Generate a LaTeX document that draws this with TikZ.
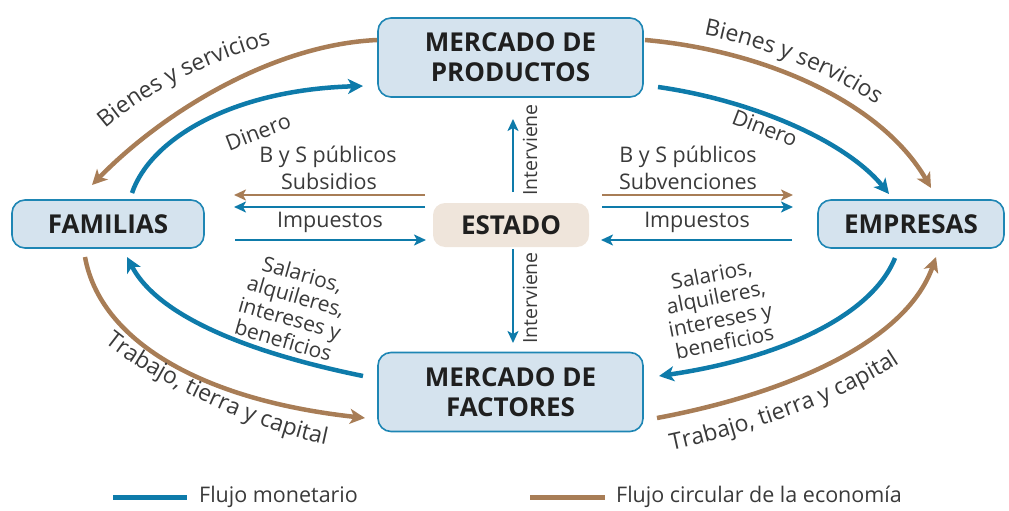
\documentclass[tikz,border=0pt]{standalone}
\usepackage{fontspec}
\setmainfont{Open Sans}
\usetikzlibrary{arrows.meta,decorations.text}
\definecolor{cblue}{HTML}{0E7BAA}
\definecolor{cbrown}{HTML}{A87D56}
\definecolor{boxfill}{HTML}{D5E3EE}
\definecolor{boxline}{HTML}{1E86B4}
\definecolor{estfill}{HTML}{EFE5DB}
\definecolor{txt}{HTML}{3A3A3A}
\newcommand{\lblfont}{\fontsize{21.5}{23}\selectfont}
\newcommand{\curvfont}{\fontsize{23}{24}\selectfont}
\begin{document}
\begin{tikzpicture}[x=1pt,y=-1pt,
  mainbox/.style={draw=boxline, line width=1.6pt, fill=boxfill, rounded corners=13pt,
    font=\fontsize{26}{30}\selectfont\bfseries, text=black!88, align=center, inner sep=0pt},
  estbox/.style={fill=estfill, rounded corners=12pt, font=\fontsize{26}{30}\selectfont\bfseries,
    text=black!88, inner sep=0pt, minimum width=156pt, minimum height=44pt},
  lbl/.style={font=\lblfont, text=txt, inner sep=0pt, align=center},
  curvtext/.style={decorate, decoration={text along path, text align=center,
    text={|\curvfont\color{txt}|#1}}},
  bigarrow/.style={line width=4.5pt, -{Stealth[length=15pt,width=15pt,inset=4pt]}},
  smallarrow/.style={line width=2.6pt, -{Stealth[length=12pt,width=11pt,inset=3pt]}},
  legline/.style={line width=5pt}
]
\useasboundingbox (0,0) rectangle (1009,511);

% main boxes
\node[mainbox, minimum width=265pt, minimum height=79pt] (prod) at (510.5,57.5) {MERCADO DE\\PRODUCTOS};
\node[mainbox, minimum width=265pt, minimum height=79pt] (fact) at (510.5,392) {MERCADO DE\\FACTORES};
\node[mainbox, minimum width=192pt, minimum height=48pt] (fam) at (108,224) {FAMILIAS};
\node[mainbox, minimum width=186pt, minimum height=48pt] (emp) at (911,224) {EMPRESAS};
\node[estbox] (est) at (511,225) {ESTADO};

% coordinates for curved flows
\coordinate (a1) at (377,40);  \coordinate (a2) at (92,185);
\coordinate (b1) at (132,193); \coordinate (b2) at (363,86);
\coordinate (c1) at (645,40);  \coordinate (c2) at (931,188);
\coordinate (d1) at (658,87);  \coordinate (d2) at (889,194);
\coordinate (e1) at (85,257);  \coordinate (e2) at (365,418);
\coordinate (f1) at (363,376); \coordinate (f2) at (127,257);
\coordinate (g1) at (895,258); \coordinate (g2) at (659,376);
\coordinate (h1) at (657,418); \coordinate (h2) at (936,257);

\draw[bigarrow, cbrown] (a1) .. controls (270,45) and (160,115) .. (a2);
\draw[bigarrow, cblue]  (b1) .. controls (150,140) and (230,90) .. (b2);
\draw[bigarrow, cbrown] (c1) .. controls (760,50) and (880,100) .. (c2);
\draw[bigarrow, cblue]  (d1) .. controls (750,100) and (845,140) .. (d2);
\draw[bigarrow, cbrown] (e1) .. controls (100,340) and (200,400) .. (e2);
\draw[bigarrow, cblue]  (f1) .. controls (260,355) and (160,320) .. (f2);
\draw[bigarrow, cblue]  (g1) .. controls (870,320) and (770,360) .. (g2);
\draw[bigarrow, cbrown] (h1) .. controls (780,395) and (905,345) .. (h2);

% horizontal flows
\coordinate (l1) at (425,195); \coordinate (l1e) at (234,195);
\coordinate (l2) at (425,207); \coordinate (l2e) at (234,207);
\coordinate (l3) at (235,240); \coordinate (l3e) at (426,240);
\coordinate (r1) at (602,195); \coordinate (r1e) at (793,195);
\coordinate (r2) at (602,207); \coordinate (r2e) at (793,207);
\coordinate (r3) at (792,240); \coordinate (r3e) at (601,240);
\draw[smallarrow, cbrown] (l1) -- (l1e);
\draw[smallarrow, cblue] (l2) -- (l2e);
\draw[smallarrow, cblue] (l3) -- (l3e);
\draw[smallarrow, cbrown] (r1) -- (r1e);
\draw[smallarrow, cblue] (r2) -- (r2e);
\draw[smallarrow, cblue] (r3) -- (r3e);

% vertical flows
\coordinate (vu1) at (513,192); \coordinate (vu2) at (513,119);
\coordinate (vd1) at (513,249); \coordinate (vd2) at (513,343);
\draw[smallarrow, cblue] (vu1) -- (vu2);
\draw[smallarrow, cblue] (vd1) -- (vd2);

% labels
\node[lbl, rotate=90, font=\fontsize{19.5}{21}\selectfont] (int1) at (530,150) {Interviene};
\node[lbl, rotate=90, font=\fontsize{19.5}{21}\selectfont] (int2) at (530,298) {Interviene};
\node[lbl] (bs1) at (328,157) {B y S públicos};
\node[lbl] (sub1) at (329,181) {Subsidios};
\node[lbl] (imp1) at (330,222) {Impuestos};
\node[lbl] (bs2) at (688,157) {B y S públicos};
\node[lbl] (sub2) at (688,181) {Subvenciones};
\node[lbl] (imp2) at (697,222) {Impuestos};
\node[lbl, rotate=21] (din1) at (258,132) {Dinero};
\node[lbl, rotate=-21] (din2) at (765,128) {Dinero};
\node[lbl, rotate=-16, font=\fontsize{21}{23}\selectfont] (sal1) at (293,307) {Salarios,\\alquileres,\\intereses y\\beneficios};
\node[lbl, rotate=11, font=\fontsize{21}{23}\selectfont] (sal2) at (718,308) {Salarios,\\alquileres,\\intereses y\\beneficios};

% curved labels
\path[curvtext={Bienes y servicios}] (94,139) .. controls (128,105) and (200,60) .. (286,41);
\path[curvtext={Bienes y servicios}] (692,33) .. controls (750,42) and (830,70) .. (886,112);
\path[curvtext={Trabajo, tierra y capital}] (99,338) .. controls (140,375) and (250,430) .. (333,446);
\path[curvtext={Trabajo, tierra y capital}] (659,453) .. controls (730,440) and (850,400) .. (910,356);

% legend
\coordinate (lb1) at (113,497); \coordinate (lb2) at (187,497);
\coordinate (lr1) at (530,497); \coordinate (lr2) at (605,497);
\draw[legline, cblue] (lb1) -- (lb2);
\draw[legline, cbrown] (lr1) -- (lr2);
\node[lbl, anchor=west] (leg1) at (199,497) {Flujo monetario};
\node[lbl, anchor=west] (leg2) at (616,497) {Flujo circular de la economía};
\end{tikzpicture}
\end{document}
